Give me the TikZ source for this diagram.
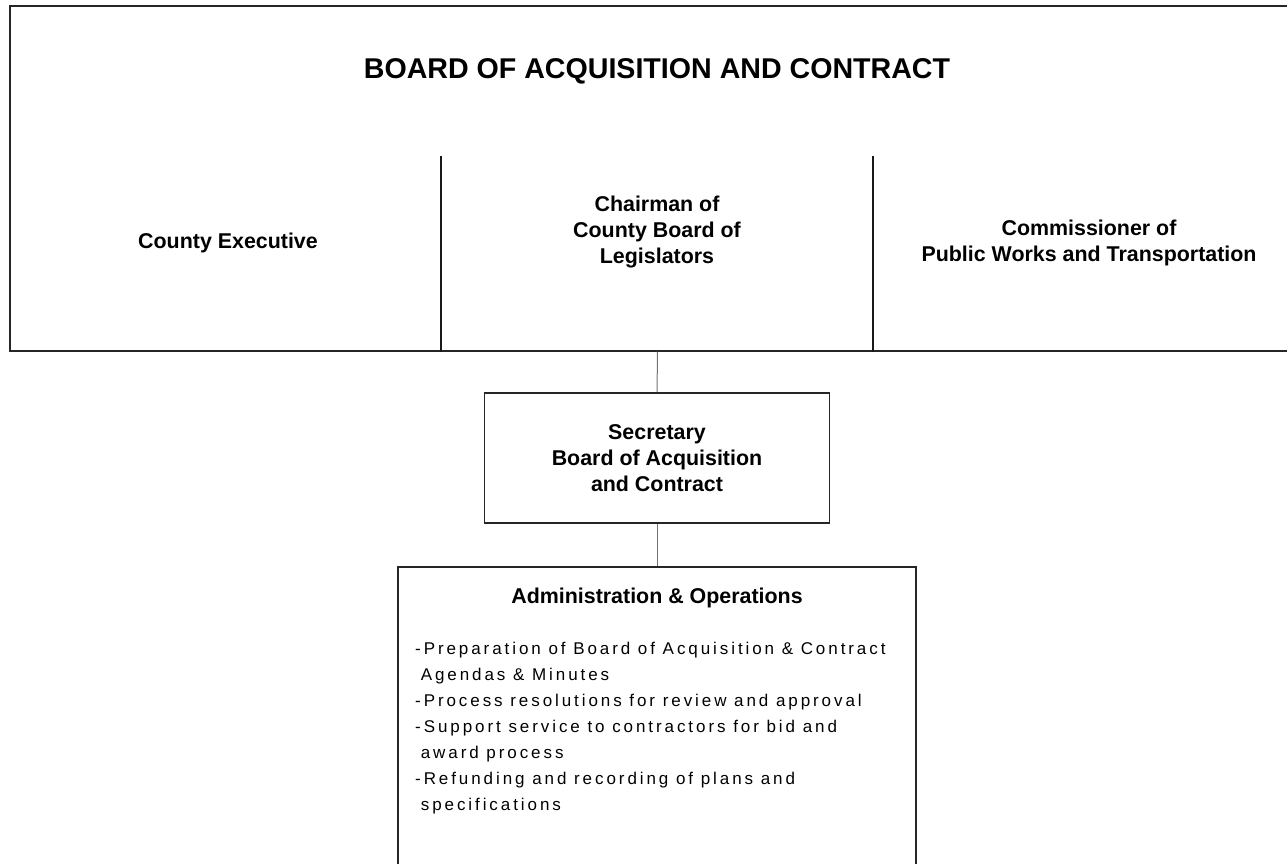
\documentclass[tikz,border=0pt]{standalone}
\usepackage{fontspec}
\setmainfont{Liberation Sans}
\newfontfamily\ritkitott[LetterSpace=17.2]{Liberation Sans}
\usetikzlibrary{calc}

\begin{document}
\begin{tikzpicture}[x=1pt,y=-1pt,
doboz/.style={rectangle,draw=black!85,line width=1.6pt,inner sep=0pt},
tag/.style={align=center,font=\fontsize{21.4}{26}\selectfont\bfseries},
valaszto/.style={draw=black!90,line width=1.3pt},
kapocs/.style={draw=black!55,line width=1pt}]
\useasboundingbox (0,0) rectangle (1287,864);
\clip (0,0) rectangle (1287,864);
\pgfmathsetmacro{\teteje}{156}
% the board
\node[doboz,minimum width=1296,minimum height=345,anchor=north west](board) at (9,5){};
\node[font=\fontsize{28.6}{34}\selectfont\bfseries,anchor=base](cim) at (657,79){BOARD OF ACQUISITION AND CONTRACT};
\coordinate (v1) at (441,\teteje);
\coordinate (v2) at (873,\teteje);
\draw[valaszto] (v1)--(v1 |- board.south);
\draw[valaszto] (v2)--(v2 |- board.south);
% base = last line
\node[tag,anchor=base](exec) at (228,248){County Executive};
\node[tag,anchor=base](chair) at (657,263){Chairman of\\County Board of\\Legislators};
\node[tag,anchor=base](comm) at (1089,261){Commissioner of\\Public Works and Transportation};
% secretary and staff
\node[doboz,tag,minimum width=345,minimum height=130](sec) at (657,458){Secretary\\Board of Acquisition\\and Contract};
\node[doboz,minimum width=518,minimum height=330,anchor=north](adm) at (657,566){};
\node[tag,anchor=base](admcim) at (657,603){Administration \& Operations};
\node[anchor=base west,align=left,inner sep=0pt,font=\ritkitott\fontsize{17}{25.9}\selectfont](feladat) at (415,810){%
-Preparation of Board of Acquisition \& Contract\\
\hphantom{-}Agendas \& Minutes\\
-Process resolutions for review and approval\\
-Support service to contractors for bid and\\
\hphantom{-}award process\\
-Refunding and recording of plans and\\
\hphantom{-}specifications};
\draw[kapocs] (board)--(sec);
\draw[kapocs] (sec)--(adm);
\end{tikzpicture}
\end{document}
